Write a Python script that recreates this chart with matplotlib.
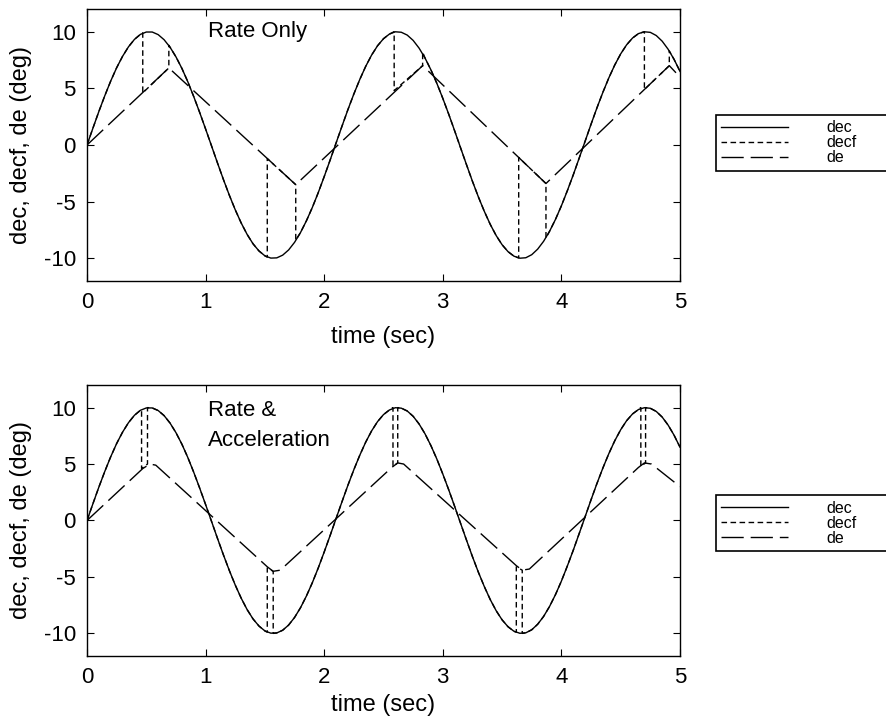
import matplotlib.pyplot as plt
import numpy as np

plt.rcParams["font.family"] = ["Liberation Sans", "DejaVu Sans"]
plt.rcParams["axes.unicode_minus"] = False

dec_time = np.linspace(0.0, 5.0, 101)
dec_values = [
    0.00, 1.49, 2.96, 4.35, 5.65, 6.82, 7.83, 8.67, 9.32, 9.76,
    9.97, 9.97, 9.74, 9.29, 8.63, 7.78, 6.76, 5.58, 4.27, 2.87,
    1.41, -0.08, -1.58, -3.04, -4.43, -5.72, -6.88, -7.89, -8.72, -9.35,
    -9.78, -9.98, -9.96, -9.72, -9.26, -8.59, -7.73, -6.69, -5.51, -4.20,
    -2.79, -1.33, 0.17, 1.66, 3.12, 4.50, 5.78, 6.94, 7.94, 8.76,
    9.38, 9.79, 9.99, 9.95, 9.70, 9.23, 8.55, 7.68, 6.63, 5.44,
    4.12, 2.72, 1.25, -0.25, -1.74, -3.20, -4.58, -5.85, -7.00, -7.99,
    -8.80, -9.41, -9.81, -9.99, -9.95, -9.68, -9.19, -8.50, -7.62, -6.57,
    -5.37, -4.04, -2.64, -1.16, 0.33, 1.83, 3.28, 4.65, 5.92, 7.06,
    8.04, 8.84, 9.44, 9.83, 9.99, 9.94, 9.66, 9.16, 8.45, 7.56,
    6.50,
]

# "Rate Only" panel
de_rate_time = [0.0, 0.69, 1.76, 2.83, 3.87, 4.91, 5.0]
de_rate_values = [0.0, 6.8, -3.5, 7.0, -3.4, 7.0, 6.0]
decf_rate_on = [0.47, 1.52, 2.59, 3.64, 4.70]
decf_rate_off = [0.69, 1.76, 2.83, 3.87, 4.91]
decf_rate_dec_on = [9.9, -9.9, 10.0, -9.97, 10.0]
decf_rate_de_on = [4.6, -1.2, 4.8, -1.1, 4.9]
decf_rate_de_off = [6.8, -3.5, 7.0, -3.4, 7.0]
decf_rate_dec_off = [8.8, -8.4, 8.2, -8.2, 8.3]

# "Rate & Acceleration" panel
de_acc_time = [0.0, 0.47, 0.53, 0.58, 1.52, 1.57, 1.63, 2.57, 2.62, 2.67,
               3.62, 3.67, 3.73, 4.65, 4.70, 4.76, 5.0]
de_acc_values = [0.0, 4.6, 5.0, 4.9, -4.1, -4.5, -4.4, 4.7, 5.1, 5.0,
                 -4.0, -4.4, -4.3, 4.7, 5.1, 5.0, 3.0]
decf_acc_on = [0.46, 1.52, 2.58, 3.62, 4.67]
decf_acc_off = [0.51, 1.57, 2.62, 3.67, 4.71]
decf_acc_dec_on = [9.8, -9.9, 10.0, -9.9, 10.0]
decf_acc_de_on = [4.6, -4.2, 4.8, -4.1, 4.8]
decf_acc_de_off = [5.0, -4.5, 5.1, -4.4, 5.1]
decf_acc_dec_off = [10.0, -10.0, 10.0, -10.0, 10.0]


def build_decf(t_on, t_off, dec_on, de_on, de_off, dec_off):
    # decf rides on dec, except inside each switching window where it drops to de
    times, values = [], []
    prev = -1.0
    for k in range(len(t_on)):
        for t, v in zip(dec_time, dec_values):
            if prev < t < t_on[k]:
                times.append(t)
                values.append(v)
        times += [t_on[k], t_on[k], t_off[k], t_off[k]]
        values += [dec_on[k], de_on[k], de_off[k], dec_off[k]]
        prev = t_off[k]
    for t, v in zip(dec_time, dec_values):
        if t > prev:
            times.append(t)
            values.append(v)
    return times, values


panels = [
    ("Rate Only", 10.0, de_rate_time, de_rate_values,
     build_decf(decf_rate_on, decf_rate_off, decf_rate_dec_on, decf_rate_de_on,
                decf_rate_de_off, decf_rate_dec_off)),
    ("Rate &\nAcceleration", 8.4, de_acc_time, de_acc_values,
     build_decf(decf_acc_on, decf_acc_off, decf_acc_dec_on, decf_acc_de_on,
                decf_acc_de_off, decf_acc_dec_off)),
]

fig = plt.figure(figsize=(8.87, 7.27), dpi=100)
axes_rects = [[0.0981, 0.6135, 0.6685, 0.3741], [0.0981, 0.0977, 0.6685, 0.3727]]
legend_boxes = [(0.807, 0.765, 0.25, 0.077), (0.807, 0.250, 0.25, 0.069)]
xlabel_offsets = [-0.165, -0.14]

for rect, leg_box, xl_off, (note, note_y, de_t, de_v, (decf_t, decf_v)) in zip(
        axes_rects, legend_boxes, xlabel_offsets, panels):
    ax = fig.add_axes(rect)
    ax.plot(dec_time, dec_values, color="black", linewidth=1.0, label="dec")
    ax.plot(decf_t, decf_v, color="black", linewidth=1.0, dashes=(4, 2.5), label="decf")
    ax.plot(de_t, de_v, color="black", linewidth=1.0, dashes=(16, 5), label="de")
    ax.set_xlim(0, 5)
    ax.set_ylim(-12, 12)
    ax.set_xticks([0, 1, 2, 3, 4, 5])
    ax.set_yticks([-10, -5, 0, 5, 10])
    ax.tick_params(direction="in", top=True, right=True, length=5, width=0.8,
                   labelsize=16, pad=8)
    for spine in ax.spines.values():
        spine.set_linewidth(1.0)
    ax.set_xlabel("time (sec)", fontsize=17)
    ax.set_ylabel("dec, decf, de (deg)", fontsize=17)
    ax.yaxis.set_label_coords(-0.093, 0.5)
    ax.xaxis.set_label_coords(0.5, xl_off)
    ax.text(1.02, note_y, note, fontsize=16, va="center", linespacing=1.55)
    leg = ax.legend(loc="upper left", bbox_to_anchor=leg_box, mode="expand",
                    bbox_transform=fig.transFigure, fontsize=11.5, frameon=True,
                    fancybox=False, edgecolor="black", framealpha=1.0,
                    handlelength=4.2, handletextpad=2.4, labelspacing=0.0,
                    borderpad=0.35, borderaxespad=0.0)
    leg.get_frame().set_linewidth(1.2)

fig.savefig("out.png", dpi=100)
plt.close(fig)
